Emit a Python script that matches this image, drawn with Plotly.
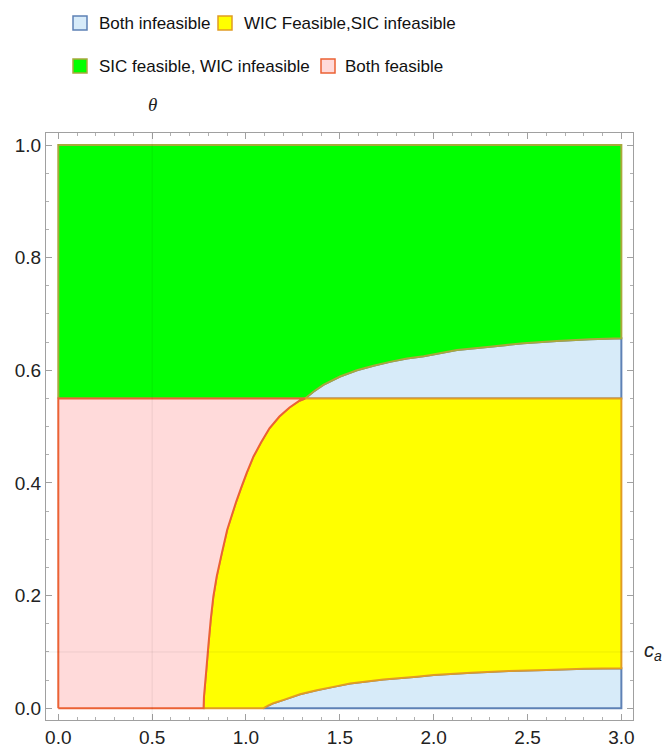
import plotly.graph_objects as go

# Boundary separating the SIC-feasible / infeasible areas (c_a, theta)
upper_c = [0.774, 0.776, 0.787, 0.799, 0.812, 0.826, 0.844, 0.871, 0.900, 0.922,
           0.948, 0.976, 1.004, 1.040, 1.080, 1.125, 1.178, 1.232, 1.285, 1.315,
           1.359, 1.412, 1.501, 1.591, 1.679, 1.767, 1.857, 1.947, 2.124, 2.300,
           2.478, 2.656, 2.833, 3.000]
upper_theta = [0.000, 0.020, 0.062, 0.109, 0.157, 0.198, 0.234, 0.275, 0.317, 0.340,
               0.367, 0.393, 0.418, 0.447, 0.472, 0.497, 0.518, 0.534, 0.546, 0.550,
               0.562, 0.574, 0.589, 0.600, 0.608, 0.615, 0.621, 0.625, 0.636, 0.642,
               0.648, 0.652, 0.655, 0.657]
# Lower boundary of the WIC-feasible area
lower_c = [1.092, 1.120, 1.146, 1.201, 1.288, 1.377, 1.466, 1.555, 1.732, 1.910,
           2.000, 2.200, 2.400, 2.600, 2.800, 3.000]
lower_theta = [0.000, 0.005, 0.009, 0.015, 0.025, 0.032, 0.038, 0.044, 0.051, 0.056,
               0.059, 0.063, 0.066, 0.068, 0.070, 0.071]
# Horizontal WIC threshold
theta_star = 0.55
c_max = 3.0
theta_max = 1.0

legend_labels = ["Both infeasible", "WIC Feasible,SIC infeasible",
                 "SIC feasible, WIC infeasible", "Both feasible"]
fill_colors = ["#D7EBF9", "#FFFF00", "#00FF00", "#FFDADA"]
edge_colors = ["#5E81B5", "#E19C24", "#A9A83C", "#EB6235"]

x_ticks = [0.0, 0.5, 1.0, 1.5, 2.0, 2.5, 3.0]
y_ticks = [0.0, 0.2, 0.4, 0.6, 0.8, 1.0]

# split the upper boundary at the threshold
k = upper_theta.index(theta_star)
low_c, low_t = upper_c[:k + 1], upper_theta[:k + 1]
high_c, high_t = upper_c[k:], upper_theta[k:]

fig = go.Figure()


def region(xs, ys, idx, width=2):
    xs = list(xs) + [xs[0]]
    ys = list(ys) + [ys[0]]
    fig.add_trace(go.Scatter(
        x=xs, y=ys, mode="lines", fill="toself",
        fillcolor=fill_colors[idx],
        line=dict(color=edge_colors[idx], width=width, simplify=False),
        hoverinfo="skip", showlegend=False))


# both infeasible: above threshold, below the upper boundary
region(high_c + [c_max], high_t + [theta_star], 0)
# both infeasible: below the lower boundary
region(lower_c + [c_max], lower_theta + [0.0], 0)
# SIC feasible, WIC infeasible
region([0.0] + high_c + [c_max, 0.0],
       [theta_star] + high_t + [theta_max, theta_max], 2)
# WIC feasible, SIC infeasible
region(low_c + [c_max] + lower_c[::-1],
       low_t + [theta_star] + lower_theta[::-1], 1)
# both feasible
region([0.0] + low_c + [0.0], [0.0] + low_t + [theta_star], 3)

# faint axes through the origin (0.5, 0.1)
fig.add_shape(type="line", xref="x", yref="paper", x0=0.5, x1=0.5, y0=0, y1=1,
              line=dict(color="rgba(0,0,0,0.07)", width=1), layer="above")
fig.add_shape(type="line", xref="paper", yref="y", x0=0, x1=1, y0=0.1, y1=0.1,
              line=dict(color="rgba(0,0,0,0.07)", width=1), layer="above")

# layout in pixels
W, H = 668, 753
ml, mr, mt, mb = 46, 35, 133, 33
pw, ph = W - ml - mr, H - mt - mb


def px(xp):
    return (xp - ml) / pw


def py(yp):
    return (H - mb - yp) / ph


# legend drawn as swatches with labels
legend_rows = [(23, [(73, 0, 97), (218, 1, 242)]),
               (66, [(73, 2, 97), (321, 3, 343)])]
for yc, items in legend_rows:
    for sx, idx, tx in items:
        fig.add_shape(type="rect", xref="paper", yref="paper",
                      x0=px(sx), x1=px(sx + 14), y0=py(yc - 7), y1=py(yc + 7),
                      fillcolor=fill_colors[idx],
                      line=dict(color=edge_colors[idx], width=1.5))
        fig.add_annotation(xref="paper", yref="paper", x=px(tx), y=py(yc),
                           text=legend_labels[idx], showarrow=False,
                           xanchor="left", yanchor="middle",
                           font=dict(size=17, color="#111",
                                     family="Liberation Sans, Arial"))

# axis labels
fig.add_annotation(xref="x", yref="paper", x=0.5, y=py(105), text="<i>θ</i>",
                   showarrow=False, xanchor="center", yanchor="middle",
                   font=dict(size=19, color="#222", family="Liberation Serif, Times New Roman"))
fig.add_annotation(xref="paper", yref="y", x=px(642), y=0.1,
                   text="<i>c</i><sub><i>a</i></sub>", showarrow=False,
                   xanchor="left", yanchor="middle",
                   font=dict(size=20, color="#222", family="Liberation Sans, Arial"))

axis_common = dict(
    showgrid=False, zeroline=False, showline=True, mirror="ticks",
    linecolor="#A0A0A0", linewidth=1, ticks="inside", ticklen=6,
    tickcolor="#A0A0A0", tickwidth=1, automargin=False,
    tickfont=dict(size=19, color="#222", family="Liberation Sans, Arial"),
)

fig.update_layout(
    width=W, height=H,
    margin=dict(l=ml, r=mr, t=mt, b=mb),
    paper_bgcolor="white", plot_bgcolor="white",
    xaxis=dict(range=[-0.0655, 3.062], tickvals=x_ticks,
               ticktext=[f"{v:.1f}" for v in x_ticks],
               minor=dict(dtick=0.1, ticks="inside", ticklen=3, tickcolor="#B0B0B0"),
               **axis_common),
    yaxis=dict(range=[-0.0208, 1.0213], tickvals=y_ticks,
               ticktext=[f"{v:.1f}" for v in y_ticks],
               minor=dict(dtick=0.05, ticks="inside", ticklen=3, tickcolor="#B0B0B0"),
               **axis_common),
    showlegend=False,
)

fig.write_html("out.html")
